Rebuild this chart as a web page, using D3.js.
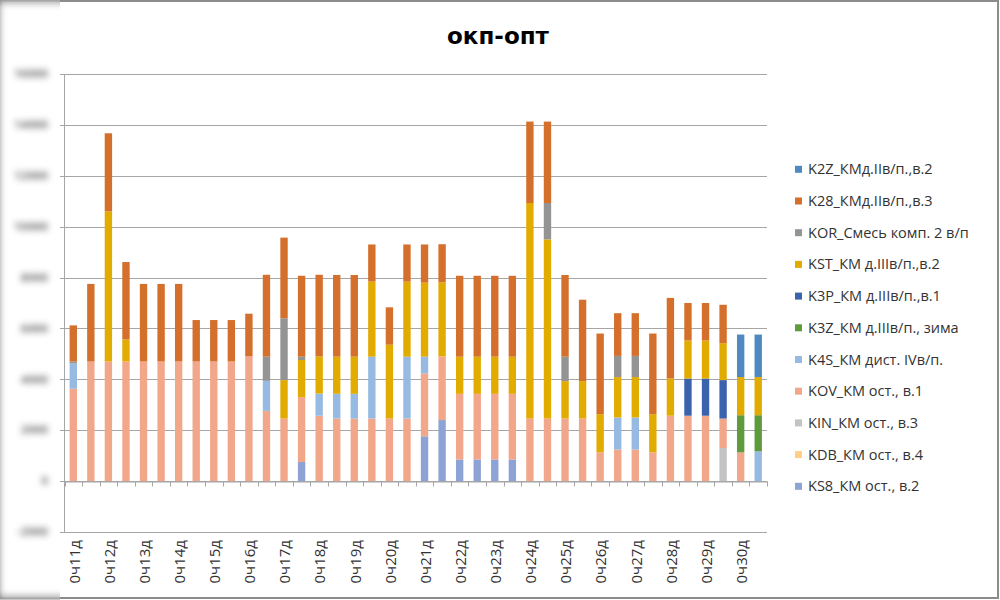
<!DOCTYPE html>
<html><head><meta charset="utf-8">
<script src="https://cdn.jsdelivr.net/npm/d3@7"></script>
<style>body{margin:0;background:#fff}svg{display:block}</style>
</head><body>
<svg id="chart" width="1000" height="600"></svg>
<script>
// ---- data ----
const days = [11,12,13,14,15,16,17,18,19,20,21,22,23,24,25,26,27,28,29,30];
const categories = days.flatMap(d => ["0ч" + d + "д", "0ч" + d + "н"]);
const tickLabels = categories.filter((c, i) => i % 2 === 0);
const yTicks = [-2000,0,2000,4000,6000,8000,10000,12000,14000,16000];

const KS8 = [0,0,0,0,0,0,0,0,0,0, 0,0,0,750,0,0,0,0,0,0, 1760,2400,850,850,850,850,0,0,0,0, 0,0,0,0,0,0,0,0,0,0];
const KDB = [0,0,0,0,0,0,0,0,0,0, 0,0,0,0,0,0,0,0,0,0, 0,0,0,0,0,0,0,0,0,0, 0,0,0,0,0,0,0,0,0,0];
const KIN = [0,0,0,0,0,0,0,0,0,0, 0,0,0,0,0,0,0,0,0,0, 0,0,0,0,0,0,0,0,0,0, 0,0,0,0,0,0,0,1300,0,0];
const KOV = [3630,4700,4700,4700,4700,4700,4700,4700,4700,4700, 4900,2760,2460,2550,2570,2460,2460,2460,2460,2460, 2470,2500,2580,2580,2580,2580,2460,2460,2460,2460, 1130,1240,1240,1130,2570,2570,2570,1160,1130,0];
const K4S = [1000,0,0,0,0,0,0,0,0,0, 0,1180,0,0,870,970,970,2430,0,2430, 660,0,0,0,0,0,0,0,0,0, 0,1260,1260,0,0,0,0,0,0,1170];
const K3Z = [0,0,0,0,0,0,0,0,0,0, 0,0,0,0,0,0,0,0,0,0, 0,0,0,0,0,0,0,0,0,0, 0,0,0,0,0,0,0,0,1460,1420];
const K3P = [0,0,0,0,0,0,0,0,0,0, 0,0,0,0,0,0,0,0,0,0, 0,0,0,0,0,0,0,0,0,0, 0,0,0,0,0,1460,1460,1510,0,0];
const KST = [0,0,5900,870,0,0,0,0,0,0, 0,0,1510,1460,1460,1460,1460,2950,2900,2950, 2910,2910,1460,1460,1460,1460,8470,7040,1470,1470, 1500,1590,1590,1500,1460,1500,1500,1450,1500,1500];
const KOR = [70,0,0,0,0,0,0,0,0,0, 0,950,2430,130,0,0,0,0,0,0, 0,0,0,0,0,0,0,1430,960,0, 0,830,830,0,0,0,0,0,0,0];
const K28 = [1420,3050,3070,3040,3050,3050,3050,1630,1630,1630, 1680,3220,3170,3180,3210,3210,3210,1460,1470,1460, 1500,1500,3180,3180,3180,3180,3200,3200,3210,3200, 3170,1680,1680,3170,3170,1470,1470,1510,0,0];
const K2Z = [0,0,0,0,0,0,0,0,0,0, 0,0,0,0,0,0,0,0,0,0, 0,0,0,0,0,0,0,0,0,0, 0,0,0,0,0,0,0,0,1670,1670];

const seriesNames = {
  K2Z: "K2Z_КМд.IIв/п.,в.2", K28: "K28_КМд.IIв/п.,в.3", KOR: "KOR_Смесь комп. 2 в/п",
  KST: "KST_КМ д.IIIв/п.,в.2", K3P: "K3P_КМ д.IIIв/п.,в.1", K3Z: "K3Z_КМ д.IIIв/п., зима",
  K4S: "K4S_КМ дист. IVв/п.", KOV: "KOV_КМ ост., в.1", KIN: "KIN_КМ ост., в.3",
  KDB: "KDB_КМ ост., в.4", KS8: "KS8_КМ ост., в.2"
};
const seriesData = {KS8, KDB, KIN, KOV, K4S, K3Z, K3P, KST, KOR, K28, K2Z};
const stackOrder = ["KS8","KDB","KIN","KOV","K4S","K3Z","K3P","KST","KOR","K28","K2Z"];
const colors = {
  K2Z:"#4f89c2", K28:"#d4702c", KOR:"#949494", KST:"#e2ab00", K3P:"#3b63ad",
  K3Z:"#5f9b3c", K4S:"#97bae2", KOV:"#f2a78b", KIN:"#c3c3c3", KDB:"#ffcf88", KS8:"#8ea3d5"
};

// ---- chart ----
const svg = d3.select("#chart");
const rows = categories.map((c, i) => {
  const r = {cat: c};
  stackOrder.forEach(k => r[k] = seriesData[k][i]);
  return r;
});
const stacked = d3.stack().keys(stackOrder)(rows);

const pL = 64.5, pR = 767, pT = 74, pB = 532;
const x = d3.scaleBand().domain(categories).range([pL, pR]).paddingInner(0.58).paddingOuter(0.29);
const y = d3.scaleLinear().domain([-2000, 16000]).range([pB, pT]);

// frame
svg.append("rect").attr("x",1).attr("y",1).attr("width",997).attr("height",597)
  .attr("fill","#fff").attr("stroke","#8c8c8c").attr("stroke-width",2);

// gridlines
svg.append("g").selectAll("line").data(yTicks).join("line")
  .attr("x1", 60).attr("x2", pR)
  .attr("y1", d => Math.round(y(d)) + 0.5).attr("y2", d => Math.round(y(d)) + 0.5)
  .attr("stroke", "#a6a6a6").attr("stroke-width", 1);

// y axis line
svg.append("line").attr("x1", pL).attr("x2", pL).attr("y1", pT).attr("y2", pB)
  .attr("stroke", "#a6a6a6");

// bars
svg.append("g").selectAll("g").data(stacked).join("g")
  .attr("fill", d => colors[d.key])
  .selectAll("rect").data(d => d).join("rect")
  .attr("x", d => x(d.data.cat))
  .attr("width", x.bandwidth())
  .attr("y", d => y(d[1]))
  .attr("height", d => Math.max(0, y(d[0]) - y(d[1])));

// x axis at zero
const xAxis = d3.axisBottom(x).tickSize(0).tickFormat("");
const xg = svg.append("g").attr("transform", `translate(0,${Math.round(y(0)) + 0.5})`).call(xAxis);
xg.select(".domain").attr("stroke", "#a6a6a6");
const bounds = d3.range(categories.length + 1).map(i => pL + i * x.step());
xg.selectAll(".bt").data(bounds).join("line").attr("class","bt")
  .attr("x1", d => Math.round(d) + 0.5).attr("x2", d => Math.round(d) + 0.5)
  .attr("y1", 0).attr("y2", 5).attr("stroke", "#a6a6a6");

// x labels
svg.append("g").selectAll("text").data(tickLabels).join("text")
  .attr("transform", d => `translate(${x(d) + x.bandwidth() / 2 + 1},540) rotate(-90)`)
  .attr("text-anchor", "end").attr("dy", "0.35em")
  .attr("font-family", "Open Sans, sans-serif").attr("font-size", 15)
  .attr("fill", "#333").text(d => d);

// left blurred strip with y labels
const defs = svg.append("defs");
defs.append("clipPath").attr("id","lclip").append("rect").attr("x",0).attr("y",0).attr("width",60).attr("height",600);
defs.append("filter").attr("id","blur").attr("x","-20%").attr("y","-20%").attr("width","140%").attr("height","140%")
  .append("feGaussianBlur").attr("stdDeviation", 3);
const lg = svg.append("g").attr("clip-path","url(#lclip)").append("g").attr("filter","url(#blur)");
lg.append("rect").attr("x",0).attr("y",0).attr("width",70).attr("height",600).attr("fill","#fff");
lg.append("rect").attr("x",-2).attr("y",1).attr("width",80).attr("height",597)
  .attr("fill","none").attr("stroke","#8c8c8c").attr("stroke-width",5);
lg.selectAll("text").data(yTicks).join("text")
  .attr("x", 48).attr("y", d => y(d)).attr("dy","0.35em")
  .attr("text-anchor","end").attr("font-family","Open Sans, sans-serif").attr("font-size",12)
  .attr("font-weight","bold").attr("fill","#555").text(d => d);

// title
svg.append("text").attr("x", 498).attr("y", 44).attr("text-anchor","middle")
  .attr("font-family","DejaVu Sans, sans-serif").attr("font-weight","bold").attr("font-size",23)
  .attr("fill","#000").text("окп-опт");

// legend
const legendKeys = stackOrder.slice().reverse();
const leg = svg.append("g").selectAll("g").data(legendKeys).join("g")
  .attr("transform", (d, i) => `translate(795,${169.3 + i * 31.7})`);
leg.append("rect").attr("x",0).attr("y",-3.5).attr("width",7).attr("height",7).attr("fill", d => colors[d]);
leg.append("text").attr("x",13).attr("dy","0.35em")
  .attr("font-family","Open Sans, sans-serif").attr("font-size",14.5)
  .attr("fill","#333").text(d => seriesNames[d]);
</script>
</body></html>
